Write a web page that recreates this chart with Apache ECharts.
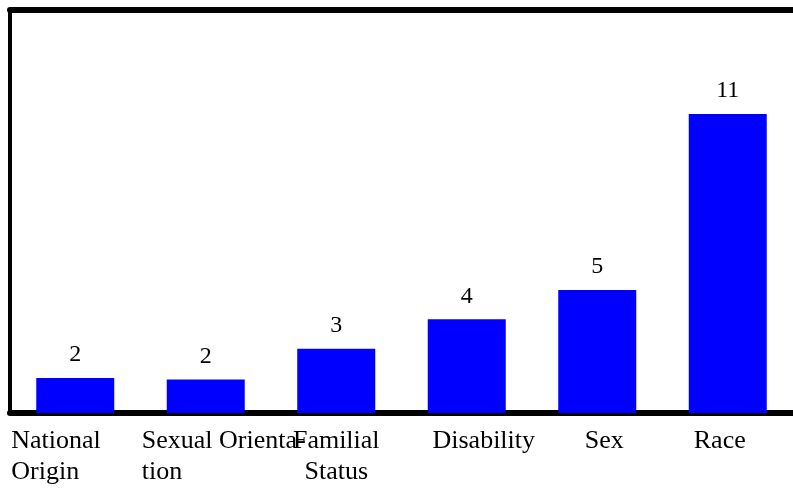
<!DOCTYPE html>
<html>
<head>
<meta charset="utf-8">
<script src="https://cdn.jsdelivr.net/npm/echarts@6/dist/echarts.min.js"></script>
<style>html,body{margin:0;padding:0;background:#fff;}#c{width:793px;height:489px;}</style>
</head>
<body>
<div id="c"></div>
<script>
var categories = ['National\nOrigin', 'Sexual Orienta-\ntion', 'Familial\nStatus', 'Disability', 'Sex', 'Race'];
var counts = [2, 1.95, 3, 4, 5, 11];
var labelStyles = ['l', 'l', 'c', 'd', 's', 'r'];

var chart = echarts.init(document.getElementById('c'));
var font = 'Liberation Serif';
var fs = 26;
chart.setOption({
  animation: false,
  textStyle: { fontFamily: font },
  grid: { left: 10, top: 10, right: 0, bottom: 76 },
  xAxis: [{
    type: 'category',
    data: categories,
    position: 'bottom',
    axisLine: { show: true, lineStyle: { color: '#000', width: 6 } },
    axisTick: { show: false },
    axisLabel: {
      interval: 0,
      margin: 13,
      color: '#000',
      fontFamily: font,
      fontSize: fs,
      lineHeight: 31,
      formatter: function (v, i) {
        var s = labelStyles[i];
        return v.split('\n').map(function (t) { return '{' + s + '|' + t + '}'; }).join('\n');
      },
      rich: {
        l: { width: 128, align: 'left', fontFamily: font, fontSize: fs, lineHeight: 31, color: '#000' },
        c: { align: 'center', fontFamily: font, fontSize: fs, lineHeight: 31, color: '#000' },
        d: { align: 'center', padding: [0, 0, 0, 34], fontFamily: font, fontSize: fs, lineHeight: 31, color: '#000' },
        s: { align: 'center', padding: [0, 0, 0, 14], fontFamily: font, fontSize: fs, lineHeight: 31, color: '#000' },
        r: { align: 'center', padding: [0, 16, 0, 0], fontFamily: font, fontSize: fs, lineHeight: 31, color: '#000' }
      }
    }
  }, {
    type: 'category',
    data: categories,
    position: 'top',
    axisLine: { show: true, lineStyle: { color: '#000', width: 6 } },
    axisTick: { show: false },
    axisLabel: { show: false }
  }],
  yAxis: {
    type: 'value',
    min: 0.807,
    max: 14.55,
    axisLine: { show: true, lineStyle: { color: '#000', width: 4 } },
    axisTick: { show: false },
    axisLabel: { show: false },
    splitLine: { show: false }
  },
  series: [{
    type: 'bar',
    data: counts,
    barWidth: 78,
    itemStyle: { color: '#0000FF' },
    label: {
      show: true,
      position: 'top',
      distance: 11,
      color: '#000',
      fontFamily: font,
      fontSize: 24,
      formatter: function (p) { return Math.round(p.value); }
    }
  }]
});
</script>
</body>
</html>
